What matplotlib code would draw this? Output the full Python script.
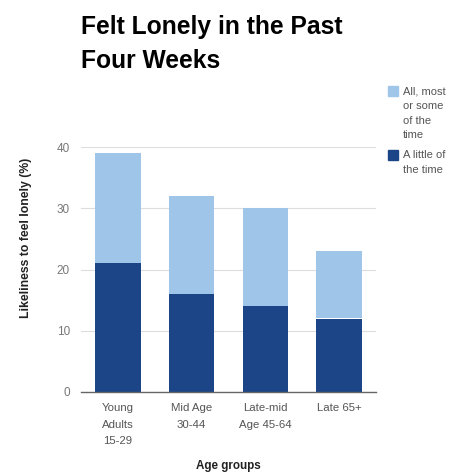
import matplotlib.pyplot as plt
import matplotlib.patches as mpatches

categories = ["Young\nAdults\n15-29", "Mid Age\n30-44", "Late-mid\nAge 45-64", "Late 65+"]
little = [21, 16, 14, 12]
most_some = [18, 16, 16, 11]
series_names = ["All, most\nor some\nof the\ntime", "A little of\nthe time"]
yticks = [0, 10, 20, 30, 40]

light = "#9fc5e8"
dark = "#1c4587"

plt.rcParams['font.family'] = ['Liberation Sans', 'DejaVu Sans']

fig = plt.figure(figsize=(4.61, 4.73), dpi=100)
W, H = 461, 473
ax = fig.add_axes([81 / W, 1 - 392 / H, (376 - 81) / W, (392 - 147) / H])

x = list(range(len(categories)))
ax.bar(x, little, width=0.62, color=dark, zorder=3)
ax.bar(x, most_some, width=0.62, bottom=little, color=light, zorder=3)

ax.set_xlim(-0.5, len(categories) - 0.5)
ax.set_ylim(0, 40)
ax.set_yticks(yticks)
ax.set_xticks(x)
ax.set_xticklabels(categories, fontsize=8.2, color="#555555", linespacing=1.8, va="top")
ax.tick_params(axis="x", length=0, pad=8)
ax.tick_params(axis="y", length=0, pad=8, labelsize=8.5, labelcolor="#777777")
ax.grid(axis="y", color="#dddddd", linewidth=0.8, zorder=0)
for s in ["top", "right", "left"]:
    ax.spines[s].set_visible(False)
ax.spines["bottom"].set_color("#666666")
ax.spines["bottom"].set_linewidth(1.0)
ax.spines["bottom"].set_zorder(4)

fig.text(81 / W, 1 - 15 / H, "Felt Lonely in the Past\nFour Weeks", fontsize=17.7,
         fontweight="bold", ha="left", va="top", linespacing=1.55, color="#000000")

fig.text(25.5 / W, 1 - 238 / H, "Likeliness to feel lonely (%)", rotation=90,
         fontsize=8.8, fontweight="bold", ha="center", va="center", color="#222222")
fig.text(228 / W, 1 - 466 / H, "Age groups", fontsize=8.4, fontweight="bold",
         ha="center", va="center", color="#222222")

# legend, drawn in figure coordinates
leg_items = [(light, series_names[0], 86), (dark, series_names[1], 150)]
for color, label, ytop in leg_items:
    fig.patches.append(mpatches.Rectangle((388 / W, 1 - (ytop + 10) / H), 10 / W, 10 / H,
                                          transform=fig.transFigure, color=color))
    fig.text(403 / W, 1 - ytop / H, label, fontsize=8, color="#555555",
             ha="left", va="top", linespacing=1.6)

fig.savefig("out.png", dpi=100)
